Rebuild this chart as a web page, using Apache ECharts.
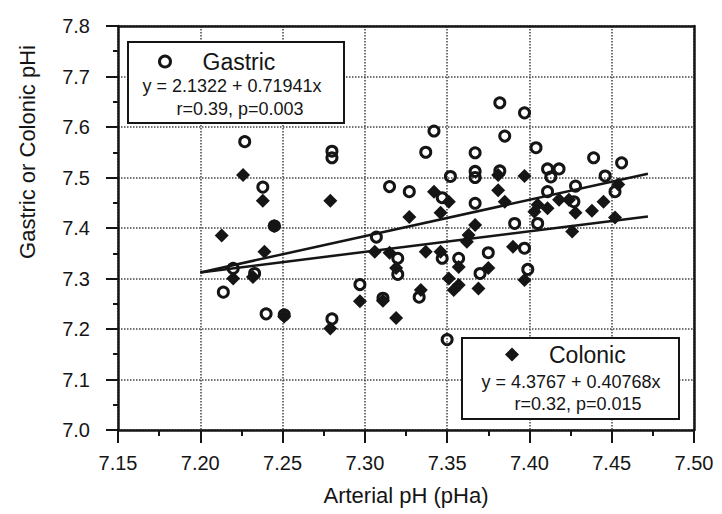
<!DOCTYPE html>
<html>
<head>
<meta charset="utf-8">
<script src="https://cdn.jsdelivr.net/npm/echarts@6/dist/echarts.min.js"></script>
<style>
  html, body { margin: 0; padding: 0; background: #ffffff; }
  #chart { width: 722px; height: 514px; }
</style>
</head>
<body>
<div id="chart"></div>
<script>
// Axis tick labels
const xTickLabels = ['7.15', '7.20', '7.25', '7.30', '7.35', '7.40', '7.45', '7.50'];
const yTickLabels = ['7.0', '7.1', '7.2', '7.3', '7.4', '7.5', '7.6', '7.7', '7.8'];

// Gastric pHi against arterial pH
const gastricPHa = [7.214, 7.220, 7.227, 7.233, 7.238, 7.240, 7.245, 7.251, 7.280, 7.280,
  7.280, 7.297, 7.307, 7.311, 7.315, 7.320, 7.320, 7.327, 7.333, 7.337,
  7.342, 7.347, 7.347, 7.350, 7.352, 7.357, 7.367, 7.367, 7.367, 7.367,
  7.370, 7.375, 7.382, 7.382, 7.385, 7.391, 7.397, 7.397, 7.399, 7.404,
  7.405, 7.411, 7.413, 7.411, 7.418, 7.427, 7.428, 7.439, 7.446, 7.452, 7.456];
const gastricPHi = [7.273, 7.320, 7.571, 7.310, 7.481, 7.230, 7.404, 7.228, 7.552, 7.539,
  7.220, 7.288, 7.382, 7.261, 7.482, 7.340, 7.308, 7.472, 7.263, 7.550,
  7.592, 7.460, 7.340, 7.179, 7.502, 7.340, 7.549, 7.512, 7.500, 7.449,
  7.310, 7.351, 7.648, 7.513, 7.582, 7.409, 7.628, 7.360, 7.318, 7.559,
  7.409, 7.517, 7.501, 7.472, 7.517, 7.452, 7.483, 7.539, 7.503, 7.472, 7.529];

// Colonic pHi against arterial pH
const colonicPHa = [7.213, 7.220, 7.226, 7.232, 7.238, 7.239, 7.245, 7.251, 7.279, 7.279,
  7.297, 7.306, 7.311, 7.315, 7.319, 7.319, 7.327, 7.334, 7.337, 7.342,
  7.346, 7.346, 7.351, 7.351, 7.354, 7.367, 7.363, 7.362, 7.357, 7.357,
  7.369, 7.375, 7.381, 7.381, 7.385, 7.390, 7.397, 7.397, 7.403, 7.405,
  7.411, 7.418, 7.424, 7.428, 7.426, 7.438, 7.445, 7.452, 7.454];
const colonicPHi = [7.385, 7.300, 7.505, 7.303, 7.454, 7.353, 7.404, 7.225, 7.454, 7.201,
  7.255, 7.353, 7.256, 7.351, 7.321, 7.222, 7.422, 7.277, 7.353, 7.472,
  7.430, 7.353, 7.452, 7.300, 7.277, 7.406, 7.386, 7.373, 7.323, 7.287,
  7.280, 7.321, 7.505, 7.475, 7.452, 7.363, 7.503, 7.297, 7.432, 7.446,
  7.439, 7.456, 7.456, 7.430, 7.393, 7.434, 7.452, 7.421, 7.486];

// Regression fits: [intercept, slope], drawn over the pHa span below
const gastricFit = [2.1322, 0.71941];
const colonicFit = [4.3767, 0.40768];
const fitSpan = [7.2, 7.472];

const xMin = 7.15, xMax = 7.5, xStep = 0.05;
const yMin = 7.0, yMax = 7.8, yStep = 0.1;

const FONT = 'Liberation Sans, Arial, Helvetica, sans-serif';
const INK = '#151515';
const GRID_INK = '#444444';

const zip = (xs, ys) => xs.map((x, i) => [x, ys[i]]);
const fitLine = (c) => fitSpan.map(x => [x, +(c[0] + c[1] * x).toFixed(4)]);

// Plain frame axes used for the top and right borders of the plot
const frameAxis = (extra) => Object.assign({
  type: 'value', show: true,
  axisLine: { show: true, onZero: false, lineStyle: { color: INK, width: 2.5 } },
  axisTick: { show: false }, axisLabel: { show: false }, splitLine: { show: false }
}, extra);

const chart = echarts.init(document.getElementById('chart'), null, { renderer: 'svg' });

chart.setOption({
  backgroundColor: '#ffffff',
  animation: false,
  grid: { left: 118, top: 26, width: 576, height: 404 },
  xAxis: [
    {
      type: 'value', min: xMin, max: xMax, interval: xStep, position: 'bottom',
      axisLine: { show: true, onZero: false, lineStyle: { color: INK, width: 2.5 } },
      axisTick: { show: true, length: 13, lineStyle: { color: INK, width: 2 } },
      minorTick: { show: true, splitNumber: 2, length: 6, lineStyle: { color: INK, width: 2 } },
      splitLine: { show: true, lineStyle: { color: GRID_INK, width: 1.5, type: 'dotted' } },
      axisLabel: {
        fontSize: 20, fontFamily: FONT, color: INK, margin: 23,
        formatter: v => xTickLabels[Math.round((v - xMin) / xStep)] || ''
      },
      name: 'Arterial pH (pHa)', nameLocation: 'middle', nameGap: 54,
      nameTextStyle: { fontSize: 22, fontFamily: FONT, color: INK }
    },
    frameAxis({ min: xMin, max: xMax, position: 'top' })
  ],
  yAxis: [
    {
      type: 'value', min: yMin, max: yMax, interval: yStep, position: 'left',
      axisLine: { show: true, onZero: false, lineStyle: { color: INK, width: 2.5 } },
      axisTick: { show: true, length: 12, lineStyle: { color: INK, width: 2 } },
      minorTick: { show: true, splitNumber: 2, length: 5, lineStyle: { color: INK, width: 2 } },
      splitLine: { show: true, lineStyle: { color: GRID_INK, width: 1.5, type: 'dotted' } },
      axisLabel: {
        fontSize: 20, fontFamily: FONT, color: INK, margin: 28,
        formatter: v => yTickLabels[Math.round((v - yMin) / yStep)] || ''
      }
    },
    frameAxis({ min: yMin, max: yMax, position: 'right' })
  ],
  legend: [
    {
      data: ['Gastric'], left: 153, top: 45, z: 20,
      itemWidth: 11, itemHeight: 11,
      itemStyle: { color: 'rgba(0,0,0,0)', borderColor: INK, borderWidth: 3 },
      textStyle: { fontSize: 23, fontFamily: FONT, color: INK, padding: [0, 0, 0, 27] },
      selectedMode: false
    },
    {
      data: ['Colonic'], left: 500, top: 338, z: 20,
      itemWidth: 14, itemHeight: 14,
      itemStyle: { color: INK, borderWidth: 0 },
      textStyle: { fontSize: 23, fontFamily: FONT, color: INK, padding: [0, 0, 0, 25] },
      selectedMode: false
    }
  ],
  graphic: [
    { type: 'rect', z: 10, shape: { x: 128, y: 42, width: 216, height: 81 },
      style: { fill: '#ffffff', stroke: INK, lineWidth: 2 } },
    { type: 'text', z: 11, x: 232, y: 86,
      style: { text: 'y = 2.1322 + 0.71941x', font: '18px ' + FONT, fill: INK, align: 'center', verticalAlign: 'middle' } },
    { type: 'text', z: 11, x: 240, y: 109,
      style: { text: 'r=0.39, p=0.003', font: '18px ' + FONT, fill: INK, align: 'center', verticalAlign: 'middle' } },
    { type: 'rect', z: 10, shape: { x: 462, y: 338, width: 217, height: 81 },
      style: { fill: '#ffffff', stroke: INK, lineWidth: 2 } },
    { type: 'text', z: 11, x: 571, y: 382,
      style: { text: 'y = 4.3767 + 0.40768x', font: '18px ' + FONT, fill: INK, align: 'center', verticalAlign: 'middle' } },
    { type: 'text', z: 11, x: 578, y: 404,
      style: { text: 'r=0.32, p=0.015', font: '18px ' + FONT, fill: INK, align: 'center', verticalAlign: 'middle' } },
    { type: 'text', z: 11, x: 27, y: 152, rotation: Math.PI / 2,
      style: { text: 'Gastric or Colonic pHi', font: '22px ' + FONT, fill: INK, align: 'center', verticalAlign: 'middle' } }
  ],
  series: [
    {
      name: 'Colonic', type: 'scatter', data: zip(colonicPHa, colonicPHi),
      symbol: 'diamond', symbolSize: 14,
      itemStyle: { color: INK, opacity: 1 }
    },
    {
      name: 'Gastric', type: 'scatter', data: zip(gastricPHa, gastricPHi),
      symbol: 'circle', symbolSize: 10,
      itemStyle: { color: 'rgba(0,0,0,0)', borderColor: INK, borderWidth: 3, opacity: 1 }
    },
    {
      name: 'Gastric fit', type: 'line', data: fitLine(gastricFit),
      symbol: 'none', silent: true, z: 3,
      lineStyle: { color: INK, width: 2.5 }
    },
    {
      name: 'Colonic fit', type: 'line', data: fitLine(colonicFit),
      symbol: 'none', silent: true, z: 3,
      lineStyle: { color: INK, width: 2.5 }
    }
  ]
});
</script>
</body>
</html>
